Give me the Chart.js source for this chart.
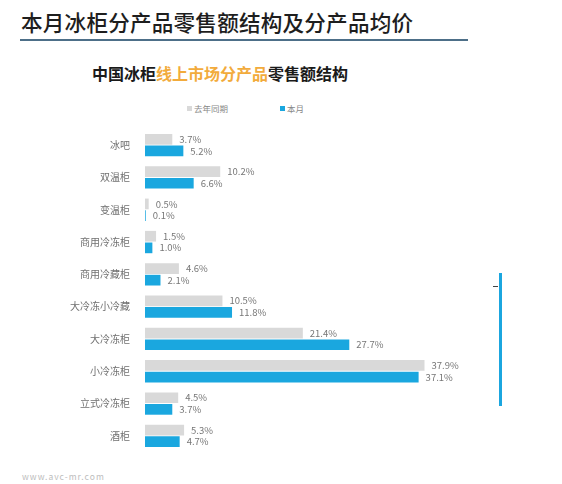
<!DOCTYPE html>
<html><head><meta charset="utf-8">
<script src="https://cdn.jsdelivr.net/npm/chart.js@4"></script>
<style>
html,body{margin:0;padding:0;background:#fff;width:562px;height:484px;overflow:hidden;font-family:"Noto Sans CJK SC","Noto Sans",sans-serif;}
#title{position:absolute;left:21px;top:6px;font-size:21.6px;color:#1e1e1e;font-weight:500;letter-spacing:0.2px;}
#rule{position:absolute;left:20px;top:39px;width:448px;height:2px;background:#4d6f88;}
#sub{position:absolute;left:92px;top:61px;font-size:16px;font-weight:700;color:#1a1a1a;}
#sub span{color:#f2ab3c;}
#legend{position:absolute;top:102px;left:0;width:562px;font-size:8.5px;color:#888;}
.li{position:absolute;white-space:nowrap}
.li i{display:inline-block;width:5px;height:5px;margin-right:2px;vertical-align:1px}
#wrap{position:absolute;left:0;top:115px;width:470px;height:350px;}
#foot{position:absolute;left:22px;top:470px;font-size:8.5px;color:#bdbdbd;letter-spacing:1px;}
#rb{position:absolute;left:499px;top:273px;width:3px;height:133px;background:#1ba6df;}
#rt{position:absolute;left:493px;top:286px;width:5px;height:1px;background:#444;}
</style></head>
<body>
<div id="title">本月冰柜分产品零售额结构及分产品均价</div>
<div id="rule"></div>
<div id="sub">中国冰柜<span>线上市场分产品</span>零售额结构</div>
<div id="legend">
  <div class="li" style="left:187px"><i style="background:#d9d9d9"></i>去年同期</div>
  <div class="li" style="left:280px"><i style="background:#1aa7df"></i>本月</div>
</div>
<div id="wrap"><canvas id="c" width="470" height="350"></canvas></div>
<div id="rb"></div><div id="rt"></div>
<div id="foot">www.avc-mr.com</div>
<script>
const categories = ["冰吧","双温柜","变温柜","商用冷冻柜","商用冷藏柜","大冷冻小冷藏","大冷冻柜","小冷冻柜","立式冷冻柜","酒柜"];
const lastYear = [3.7,10.2,0.5,1.5,4.6,10.5,21.4,37.9,4.5,5.3];
const thisMonth = [5.2,6.6,0.1,1.0,2.1,11.8,27.7,37.1,3.7,4.7];
const seriesNames = ["去年同期","本月"];

const labelPlugin = {
  id:'vals',
  afterDatasetsDraw(chart){
    const ctx = chart.ctx;
    ctx.save();
    ctx.font = '9.5px "Noto Sans CJK SC", sans-serif';
    ctx.fillStyle = '#777';
    ctx.textBaseline = 'middle';
    chart.data.datasets.forEach((ds,i)=>{
      chart.getDatasetMeta(i).data.forEach((bar,j)=>{
        ctx.fillText(ds.data[j].toFixed(1)+'%', bar.x+7, bar.y);
      });
    });
    ctx.restore();
  }
};

new Chart(document.getElementById('c'),{
  type:'bar',
  data:{labels:categories,datasets:[
    {label:seriesNames[0],data:lastYear,backgroundColor:'#d9d9d9',categoryPercentage:0.72,barPercentage:0.92},
    {label:seriesNames[1],data:thisMonth,backgroundColor:'#1aa7df',categoryPercentage:0.72,barPercentage:0.92}
  ]},
  options:{
    indexAxis:'y',responsive:false,animation:false,
    layout:{padding:{top:14,bottom:12,right:30,left:0}},
    plugins:{legend:{display:false},tooltip:{enabled:false}},
    scales:{
      x:{display:false,min:0,max:40},
      y:{grid:{display:false},border:{display:false},
         ticks:{color:'#707070',font:{size:10,family:'"Noto Sans CJK SC", sans-serif'},padding:7},
         afterFit(s){s.width=145;}}
    }
  },
  plugins:[labelPlugin]
});
</script>
</body></html>
